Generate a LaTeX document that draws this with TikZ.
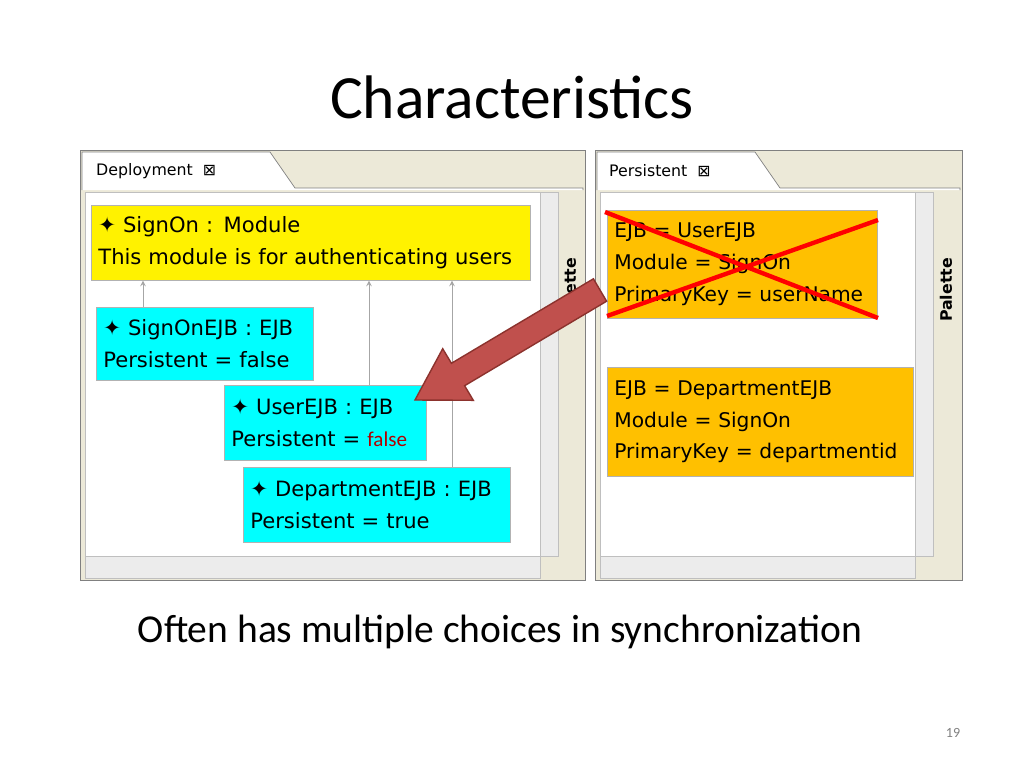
\documentclass[tikz,border=0pt]{standalone}
\usepackage{fontspec}
\setmainfont{Carlito}
\newfontfamily\guifont{DejaVu Sans}
\usetikzlibrary{positioning}
\definecolor{paneback}{RGB}{236,233,216}
\definecolor{ejbcyan}{RGB}{0,255,255}
\definecolor{persorange}{RGB}{255,192,0}
\definecolor{warparrow}{RGB}{192,80,77}
\definecolor{darkred}{RGB}{140,50,45}
\tikzset{
  diagbox/.style={draw=gray!60, align=left, anchor=north west, inner xsep=4pt, inner ysep=5pt, font=\guifont\fontsize{12}{18}\selectfont},
  modbox/.style={diagbox, fill=yellow},
  ejbbox/.style={diagbox, fill=ejbcyan},
  persbox/.style={diagbox, fill=persorange, font=\guifont\fontsize{11.5}{18}\selectfont},
  tabtext/.style={font=\guifont\fontsize{9}{10}\selectfont, anchor=west},
  uplink/.style={draw=gray!70, ->, >=stealth}
}
\begin{document}
\begin{tikzpicture}[x=0.02cm, y=-0.02cm]
    \useasboundingbox (0,0) rectangle (1024,768);

    \node (title) at (512,97) {\fontsize{35}{38}\selectfont Characteristics};
    \node (caption) at (500,632) {\fontsize{22.5}{25}\selectfont Often has multiple choices in synchronization};
    \node[text=gray] (pagenum) at (953,733) {\fontsize{8}{9}\selectfont 19};

    % left pane
    \draw[gray, fill=paneback] (80,150) rectangle (585,580);
    \draw[gray, fill=white] (82,190) -- (82,152) -- (270,152) -- (295,188) -- (583,188) -- (583,190);
    \draw[fill=white, draw=gray!50] (85,192) rectangle (540,556);
    \draw[fill=gray!15, draw=gray!50] (540,192) rectangle (558,556);
    \draw[fill=gray!15, draw=gray!50] (85,556) rectangle (540,578);
    \node[tabtext] (deptab) at (90,171) {Deployment \ ⊠};
    \node[rotate=90, font=\guifont\bfseries\fontsize{9}{10}\selectfont] (palA) at (570,290) {Palette};

    % right pane
    \draw[gray, fill=paneback] (595,150) rectangle (962,580);
    \draw[gray, fill=white] (597,190) -- (597,152) -- (755,152) -- (780,188) -- (960,188) -- (960,190);
    \draw[fill=white, draw=gray!50] (600,192) rectangle (915,556);
    \draw[fill=gray!15, draw=gray!50] (915,192) rectangle (933,556);
    \draw[fill=gray!15, draw=gray!50] (600,556) rectangle (915,578);
    \node[tabtext] (perstab) at (603,171) {Persistent \ ⊠};
    \node[rotate=90, font=\guifont\bfseries\fontsize{9}{10}\selectfont] (palB) at (946,290) {Palette};

    % deployment model
    \node[modbox, text width=425*0.02cm, minimum height=75*0.02cm] (signon) at (91,205) {✦ SignOn : Module\\This module is for authenticating users};
    \node[ejbbox, text width=203*0.02cm, minimum height=73*0.02cm] (signonejb) at (96,307) {✦ SignOnEJB : EJB\\Persistent = false};
    \node[ejbbox, text width=188*0.02cm, minimum height=75*0.02cm] (userejb) at (224,385) {✦ UserEJB : EJB\\Persistent = {\fontspec{Carlito}\color{red!70!black}false}};
    \node[ejbbox, text width=253*0.02cm, minimum height=75*0.02cm] (deptejb) at (243,467) {✦ DepartmentEJB : EJB\\Persistent = true};

    \draw[uplink] (signonejb.north -| 143,0) -- (signon.south -| 143,0);
    \draw[uplink] (userejb.north -| 369,0) -- (signon.south -| 369,0);
    \draw[uplink] (deptejb.north -| 452,0) -- (signon.south -| 452,0);

    % persistent model
    \node[persbox, text width=256*0.02cm, minimum height=108*0.02cm] (userpers) at (607,210) {EJB = UserEJB\\Module = SignOn\\PrimaryKey = userName};
    \node[persbox, text width=292*0.02cm, minimum height=109*0.02cm] (deptpers) at (607,367) {EJB = DepartmentEJB\\Module = SignOn\\PrimaryKey = departmentid};

    \draw[red, line width=2.5pt] (605,212) -- (878,318);
    \draw[red, line width=2.5pt] (607,316) -- (878,220);

    % warp arrow
    \draw[fill=warparrow, draw=darkred, line width=0.8pt] (606.6,301.2) -- (464.6,385.7) -- (473.3,400.3) -- (415,400) -- (442.7,348.7) -- (451.4,363.3) -- (593.4,278.8) -- cycle;
\end{tikzpicture}
\end{document}
